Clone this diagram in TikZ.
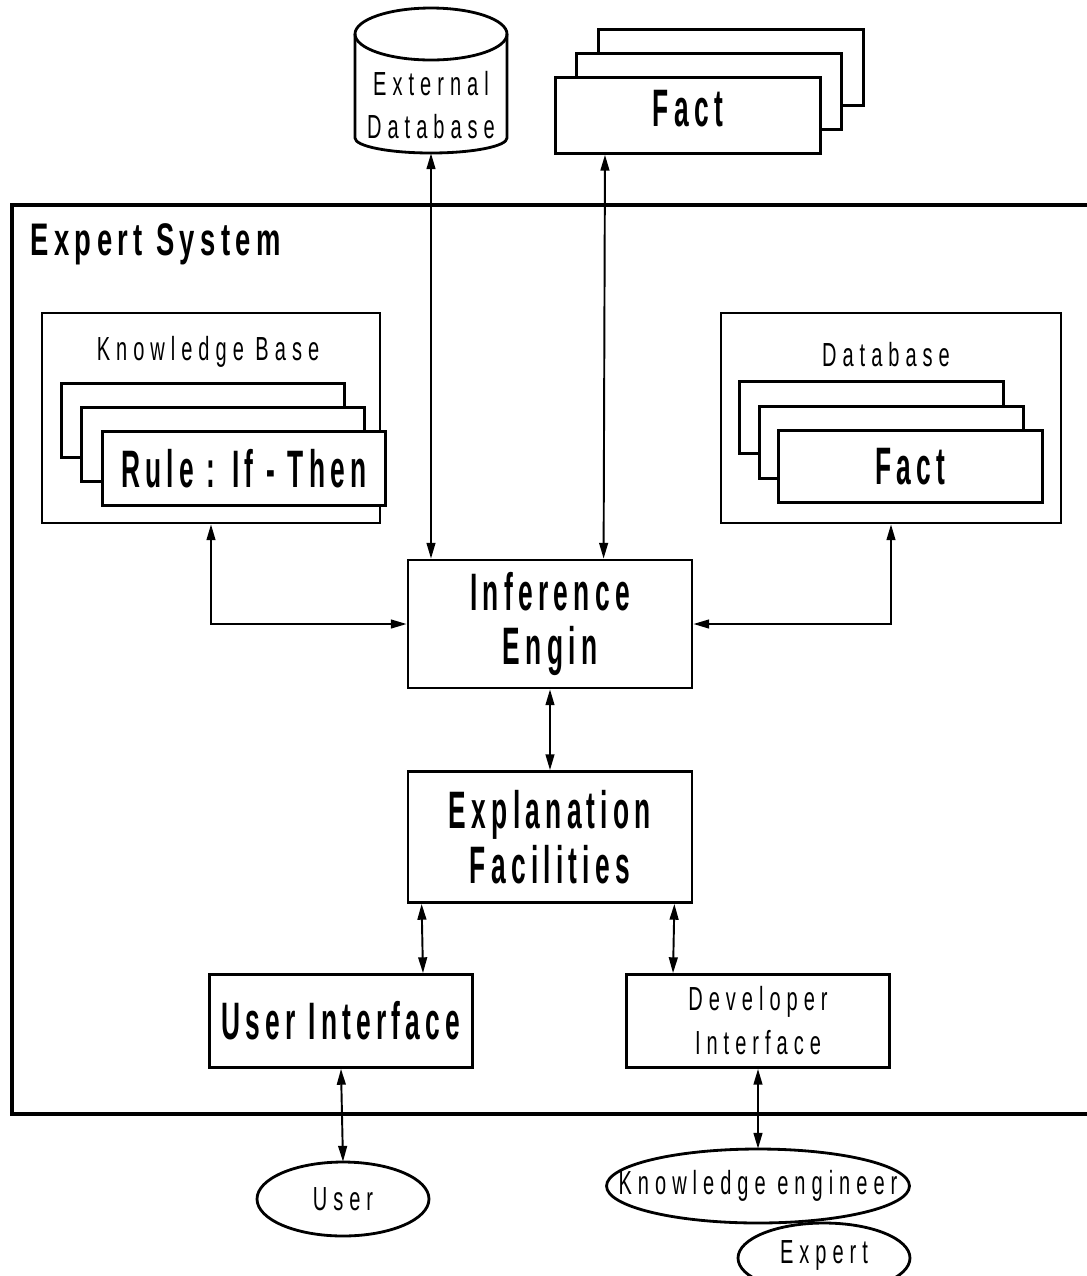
\documentclass[tikz,border=0pt]{standalone}
\usepackage{fontspec}
\usepackage{graphicx}
\usetikzlibrary{shapes.geometric,arrows.meta}
\newfontfamily\capfont[LetterSpace=20]{Liberation Sans}
\newfontfamily\smfont[LetterSpace=30]{Liberation Sans}
\newcommand{\bigtxt}[1]{\scalebox{0.5}[1]{\capfont\bfseries\fontsize{30}{30}\selectfont #1}}
\newcommand{\titletxt}[1]{\scalebox{0.6}[1]{\capfont\bfseries\fontsize{26}{26}\selectfont #1}}
\newcommand{\smtxt}[1]{\scalebox{0.6}[1]{\smfont\fontsize{19}{19}\selectfont #1}}
\tikzset{box/.style={draw,line width=1.6pt,fill=white,inner sep=0pt},
  bigbox/.style={box,align=center,font=\fontsize{30}{31}\selectfont},
  smbox/.style={box,align=center,font=\fontsize{19}{25}\selectfont},
  card/.style={box,anchor=north west},
  oval/.style={inner sep=0pt},
  ovalline/.style={draw,line width=1.6pt,fill=white},
  arr/.style={{Triangle[length=9pt,width=5pt]}-{Triangle[length=9pt,width=5pt]},line width=1.1pt}}

\begin{document}
\begin{tikzpicture}[x=0.02cm,y=-0.02cm]
    \useasboundingbox (0,0) rectangle (1087,1276);
    \fill[white] (0,0) rectangle (1087,1276);

    % expert system frame
    \draw[line width=2pt] (12,205) rectangle (1100,1114);
    \node[anchor=base west,inner sep=0pt] (title) at (30,255) {\titletxt{Expert System}};

    % external database
    \draw[line width=1.6pt,fill=white] (355,34) -- (355,138) arc[start angle=180,end angle=360,x radius=1.52cm,y radius=0.3cm] -- (507,34);
    \draw[line width=1.6pt] (431,34) ellipse [x radius=1.52cm,y radius=0.52cm];
    \node[align=center,inner sep=0pt,minimum width=3.04cm,minimum height=1.92cm,font=\fontsize{19}{24}\selectfont] (extdb) at (431,105) {\smtxt{External}\\\smtxt{Database}};

    % outside facts
    \node[card,minimum width=5.3cm,minimum height=1.52cm] (fact3) at (597,28) {};
    \node[card,minimum width=5.3cm,minimum height=1.52cm] (fact2) at (575,52) {};
    \node[card,minimum width=5.3cm,minimum height=1.52cm] (fact1) at (554,76) {\bigtxt{Fact}\rule[-8pt]{0pt}{1pt}};

    % knowledge base
    \node[box,minimum width=6.76cm,minimum height=4.2cm] (kb) at (211,418) {};
    \node[anchor=base,inner sep=0pt] (kbt) at (208,360) {\smtxt{Knowledge Base}};
    \node[card,minimum width=5.66cm,minimum height=1.48cm] (rule3) at (60,382) {};
    \node[card,minimum width=5.66cm,minimum height=1.48cm] (rule2) at (80,406) {};
    \node[card,minimum width=5.66cm,minimum height=1.48cm] (rule1) at (101,430) {\bigtxt{Rule : If - Then}};

    % database
    \node[box,minimum width=6.8cm,minimum height=4.2cm] (db) at (891,418) {};
    \node[anchor=base,inner sep=0pt] (dbt) at (886,366) {\smtxt{Database}};
    \node[card,minimum width=5.28cm,minimum height=1.44cm] (dfact3) at (738,380) {};
    \node[card,minimum width=5.28cm,minimum height=1.44cm] (dfact2) at (758,405) {};
    \node[card,minimum width=5.28cm,minimum height=1.44cm] (dfact1) at (777,429) {\bigtxt{Fact}};

    % engine and interfaces
    \node[bigbox,minimum width=5.68cm,minimum height=2.56cm] (inf) at (550,624) {\bigtxt{Inference}\\\bigtxt{Engin}};
    \node[bigbox,minimum width=5.68cm,minimum height=2.62cm] (expl) at (550,837) {\bigtxt{Explanation}\\\bigtxt{Facilities}};
    \node[bigbox,minimum width=5.26cm,minimum height=1.86cm] (ui) at (341,1021) {\bigtxt{User Interface}};
    \node[smbox,minimum width=5.26cm,minimum height=1.86cm] (dev) at (758,1021) {\smtxt{Developer}\\\smtxt{Interface}};

    % people
    \draw[ovalline] (343,1199) ellipse [x radius=1.72cm,y radius=0.74cm];
    \draw[ovalline] (824,1258) ellipse [x radius=1.72cm,y radius=0.7cm];
    \draw[ovalline] (758,1186) ellipse [x radius=3.03cm,y radius=0.74cm];
    \node[oval,minimum width=3.44cm,minimum height=1.48cm] (user) at (343,1199) {\smtxt{User}};
    \node[oval,minimum width=3.44cm,minimum height=1.4cm] (expert) at (824,1255) {\smtxt{Expert}};
    \node[oval,minimum width=6.06cm,minimum height=1.48cm] (keng) at (758,1186) {\smtxt{Knowledge engineer}};

    % connectors
    \draw[arr] (extdb.south) -- (extdb.south |- inf.north);
    \draw[arr] ([xshift=1.02cm]fact1.south west) -- ([xshift=3.94cm]inf.north west);
    \draw[arr] (kb.south) |- (inf.west);
    \draw[arr] (db.south) |- (inf.east);
    \draw[arr] (inf.south) -- (expl.north);
    \draw[arr] ([xshift=0.3cm]expl.south west) -- ([xshift=1.64cm]ui.north);
    \draw[arr] ([xshift=-0.38cm]expl.south east) -- ([xshift=-1.7cm]dev.north);
    \draw[arr] (ui.south) -- (user.north);
    \draw[arr] (dev.south) -- (keng.north);
\end{tikzpicture}
\end{document}
